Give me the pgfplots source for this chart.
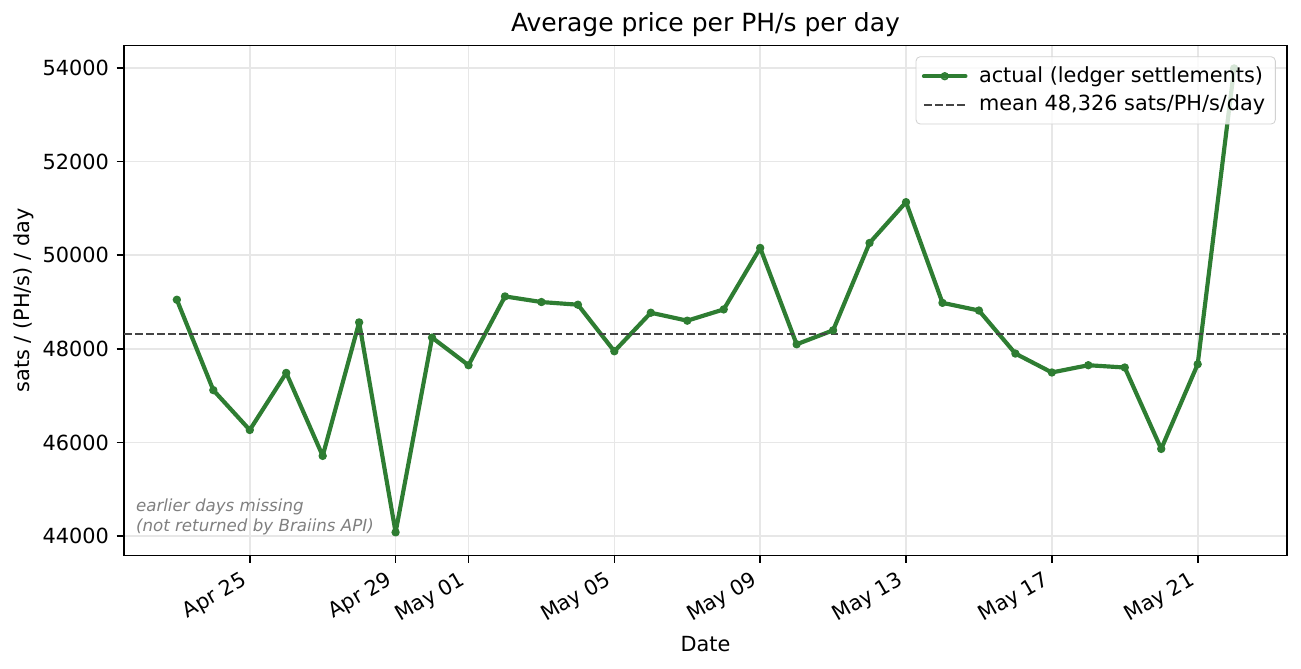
\documentclass[border=0pt]{standalone}
\usepackage{fontspec}
\setmainfont{DejaVu Sans}[ItalicFont={DejaVu Sans Oblique}]
\usepackage{pgfplots}
\usepackage{pgfplotstable}
\pgfplotsset{compat=1.18}
\definecolor{lgreen}{HTML}{2E7D32}
\definecolor{meangray}{HTML}{444444}
\definecolor{gridgray}{HTML}{E7E7E7}
\pgfplotstableread{
day price
0 49051
1 47121
2 46270
3 47489
4 45717
5 48568
6 44085
7 48243
8 47653
9 49122
10 49002
11 48945
12 47951
13 48774
14 48604
15 48845
16 50157
17 48100
18 48398
19 50264
20 51135
21 48985
22 48821
23 47902
24 47498
25 47653
26 47604
27 45866
28 47674
29 53990
}\pricetable
\begin{document}
\begin{tikzpicture}
\useasboundingbox (-59.52pt,-54.48pt) rectangle (564.96pt,266.64pt);
\begin{axis}[
  scale only axis,
  width=558.24pt, height=244.8pt,
  xmin=-1.45, xmax=30.45, ymin=43590, ymax=54480,
  axis line style={black, line width=0.8pt},
  tick align=outside,
  major tick length=3.5pt,
  tick style={black, line width=0.8pt},
  xtick pos=bottom, ytick pos=left,
  xtick={2,6,8,12,16,20,24,28},
  xticklabels={Apr 25,Apr 29,May 01,May 05,May 09,May 13,May 17,May 21},
  ytick={44000,46000,48000,50000,52000,54000},
  scaled y ticks=false,
  /pgf/number format/assume math mode=true,
  /pgf/number format/1000 sep={},
  yticklabel={\pgfmathprintnumber[fixed,precision=0,1000 sep={},assume math mode=true]{\tick}},
  ticklabel style={font=\fontsize{10}{12}\selectfont},
  xticklabel style={inner sep=0pt, text height=7.3pt, text depth=2.2pt, xshift=-4.6pt, yshift=-3.5pt, rotate=30, anchor=north east},
  yticklabel style={inner sep=0pt, xshift=-3.5pt, anchor=east},
  grid=major,
  major grid style={gridgray, line width=0.8pt},
  xlabel={Date},
  ylabel={sats / (PH/s) / day},
  label style={font=\fontsize{10}{12}\selectfont},
  xlabel style={at={(axis description cs:0.5,-0.1745)}, anchor=center},
  ylabel style={at={(axis description cs:-0.086,0.5)}, anchor=center},
  title={Average price per PH/s per day},
  every axis title shift=0pt,
  title style={at={(axis description cs:0.5,1.0405)}, anchor=center, yshift=0pt, font=\fontsize{12}{14}\selectfont},
  legend cell align=left,
  legend style={at={(1,1)}, anchor=north east, xshift=-5.4pt, yshift=-5.2pt,
    draw=black!18, rounded corners=2pt, fill=white, fill opacity=0.8, text opacity=1,
    font=\fontsize{10}{12}\selectfont, inner xsep=2.8pt, inner ysep=2.8pt, row sep=0.5pt, column sep=3.5pt},
  legend image code/.code={\draw[mark repeat=2,mark phase=2] plot coordinates {(0cm,0cm) (0.35cm,0cm) (0.7cm,0cm)};},
]
\addplot[lgreen, line width=2pt, line join=round, line cap=round, mark=*, mark size=1.7pt, mark options={solid, line width=0.6pt}] table[x=day, y=price] {\pricetable};
\addlegendentry{actual (ledger settlements)}
\addplot[meangray, line width=1pt, dash pattern=on 3.7pt off 1.6pt] coordinates {(-1.45,48326) (30.45,48326)};
\addlegendentry{mean 48,326 sats/PH/s/day}
\node[anchor=south west, inner sep=0pt, align=left, text=gray, font=\fontsize{8}{9.6}\selectfont\itshape] at (axis description cs:0.01,0.04) {earlier days missing\\(not returned by Braiins API)};
\end{axis}
\end{tikzpicture}
\end{document}
